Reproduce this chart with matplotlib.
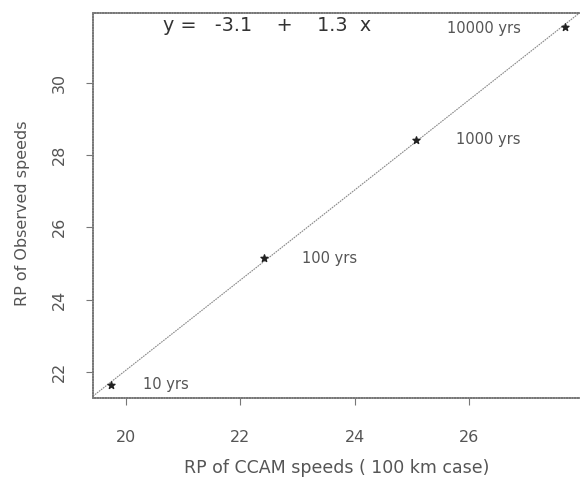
import numpy as np
import matplotlib
matplotlib.use('Agg')
import matplotlib.pyplot as plt

plt.rcParams['font.family'] = ['DejaVu Sans']

# Return periods: CCAM (100 km) vs observed speeds
periods = ['10 yrs', '100 yrs', '1000 yrs', '10000 yrs']
ccam_rp = [19.73, 22.41, 25.07, 27.67]
obs_rp = [21.64, 25.14, 28.42, 31.53]

fig = plt.figure(figsize=(5.8, 4.79), dpi=100)
ax = fig.add_axes([0.1603, 0.1691, 0.8397, 0.8044])

grey = '#555555'

# fitted straight line across the full x-range
b, a = np.polyfit(ccam_rp, obs_rp, 1)
xs = np.array([19.42, 27.94])
ax.plot(xs, a + b * xs, color='#888888', lw=0.8, linestyle=(0, (1.5, 0.8)))

ax.scatter(ccam_rp, obs_rp, marker='*', s=28, color='#222222', zorder=3)

# label each point
offsets = [(32, 0), (38, 0), (40, 0), (-118, -1)]
for lab, x, y, off in zip(periods, ccam_rp, obs_rp, offsets):
    ax.annotate(lab, (x, y), xytext=off, textcoords='offset pixels',
                ha='left', va='center', fontsize=10.5, color=grey)

ax.text(0.144, 0.968, 'y =   -3.1    +    1.3  x', transform=ax.transAxes,
        ha='left', va='center', fontsize=13.8, color='#333333')

ax.set_xlim(19.42, 27.94)
ax.set_ylim(21.28, 31.93)
ax.set_xticks([20, 22, 24, 26])
ax.set_yticks([22, 24, 26, 28, 30])
ax.tick_params(direction='out', length=5, width=0.8, colors='#777777',
               labelcolor=grey, labelsize=11.5)
ax.tick_params(axis='x', pad=18)
ax.tick_params(axis='y', pad=14)
for lbl in ax.get_yticklabels():
    lbl.set_rotation(90)
    lbl.set_va('center')

for side in ['left', 'bottom', 'top']:
    ax.spines[side].set_color('#777777')
    ax.spines[side].set_linestyle((0, (1, 0.6)))
    ax.spines[side].set_linewidth(1.2)
ax.spines['right'].set_visible(False)

ax.set_xlabel('RP of CCAM speeds ( 100 km case)', fontsize=12.5, color=grey, labelpad=10)
ax.set_ylabel('RP of Observed speeds', fontsize=11.5, color=grey)
ax.yaxis.set_label_coords(-0.13, 0.48)

fig.savefig('out.png', dpi=100)
